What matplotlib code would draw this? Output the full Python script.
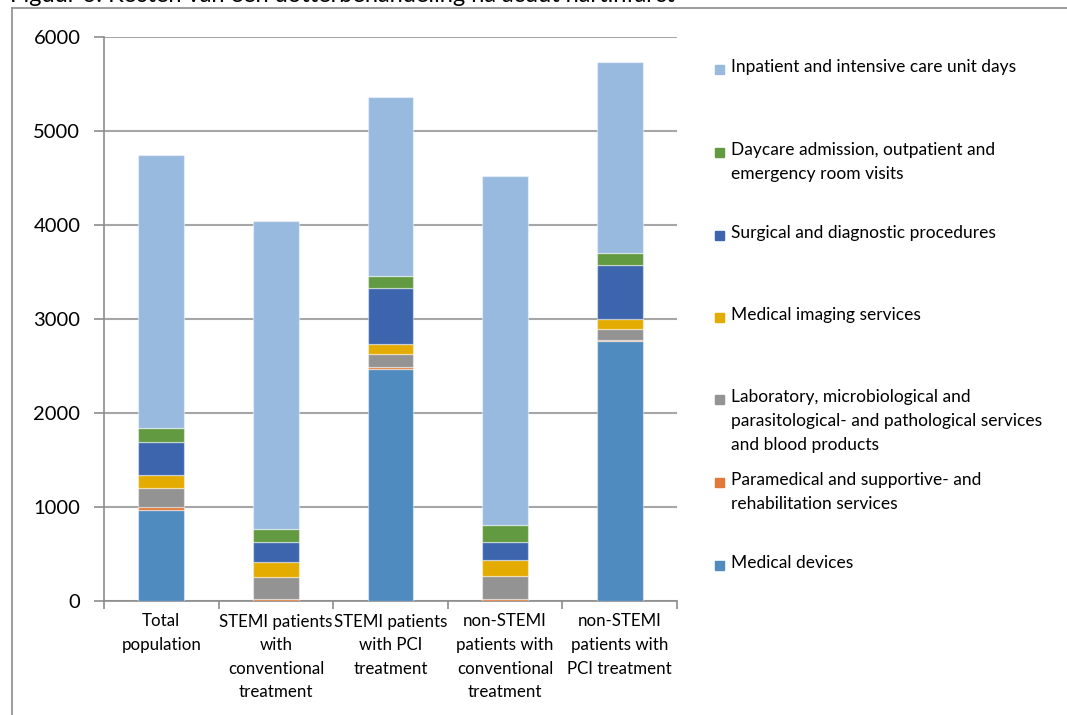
import numpy as np
import matplotlib.pyplot as plt
from matplotlib.lines import Line2D
from matplotlib.patches import Rectangle

plt.rcParams['font.family'] = ['Lato', 'DejaVu Sans']

groups = ["Total\npopulation",
          "STEMI patients\nwith\nconventional\ntreatment",
          "STEMI patients\nwith PCI\ntreatment",
          "non-STEMI\npatients with\nconventional\ntreatment",
          "non-STEMI\npatients with\nPCI treatment"]

# cost components, bottom to top of each stack
medical_devices = [970, 0, 2465, 0, 2765]
paramedical = [25, 20, 22, 20, 12]
laboratory = [205, 240, 145, 250, 120]
imaging = [140, 150, 107, 167, 100]
surgical = [350, 215, 591, 190, 577]
daycare = [150, 145, 127, 180, 127]
inpatient = [2900, 3275, 1900, 3710, 2038]

series = [medical_devices, paramedical, laboratory, imaging, surgical, daycare, inpatient]
names = ["Medical devices",
         "Paramedical and supportive- and\nrehabilitation services",
         "Laboratory, microbiological and\nparasitological- and pathological services\nand blood products",
         "Medical imaging services",
         "Surgical and diagnostic procedures",
         "Daycare admission, outpatient and\nemergency room visits",
         "Inpatient and intensive care unit days"]
colors = ["#4F8BBE", "#E0793A", "#939393", "#E4AB00", "#3D65AE", "#619A40", "#99BADF"]

fig = plt.figure(figsize=(10.67, 7.15), dpi=100)
ax = fig.add_axes([104 / 1067, 1 - 601 / 715, 573 / 1067, 564 / 715])

x = np.arange(len(groups))
bottom = np.zeros(len(groups))
for vals, col in zip(series, colors):
    ax.bar(x, vals, 0.4, bottom=bottom, color=col,
           edgecolor=(1, 1, 1, 0.45), linewidth=0.9, zorder=3)
    bottom += np.array(vals)

ax.set_xlim(-0.5, 4.5)
ax.set_ylim(0, 6000)
ax.set_yticks(np.arange(0, 6001, 1000))
ax.grid(axis='y', color='#A6A6A6', linewidth=1.5, zorder=0)

ax.set_xticks(x)
ax.set_xticklabels(groups, fontsize=12.2, linespacing=1.58)
ax.set_xticks(np.arange(-0.5, 5, 1), minor=True)
ax.tick_params(axis='x', which='major', length=0, pad=9)
ax.tick_params(axis='x', which='minor', length=6, color='#8C8C8C', width=1.2)
ax.tick_params(axis='y', labelsize=14.5, length=7, color='#8C8C8C', width=1.2, pad=10)

for side in ['top', 'right']:
    ax.spines[side].set_visible(False)
for side in ['left', 'bottom']:
    ax.spines[side].set_color('#8C8C8C')
    ax.spines[side].set_linewidth(1.2)

# legend, top entry first
leg_rows = [70, 153, 236, 318, 400, 483, 566]
for row, name, col in zip(leg_rows, names[::-1], colors[::-1]):
    fig.patches.append(Rectangle((715 / 1067, 1 - (row + 4) / 715), 9 / 1067, 9 / 715,
                                 transform=fig.transFigure, color=col, figure=fig))
    fig.text(731 / 1067, 1 - (row - 11) / 715, name, fontsize=12.5, va='top',
             linespacing=1.6)

# frame of the chart area
fig.add_artist(Line2D([12 / 1067, 12 / 1067], [0, 1 - 8 / 715], color='#8C8C8C', linewidth=1.2))
fig.add_artist(Line2D([12 / 1067, 1], [1 - 8 / 715, 1 - 8 / 715], color='#8C8C8C', linewidth=1.2))

fig.text(10 / 1067, 1 - 2 / 715, "Figuur 6: Kosten van een dotterbehandeling na acuut hartinfarct",
         fontsize=17, va='baseline')

fig.savefig('out.png', dpi=100)
